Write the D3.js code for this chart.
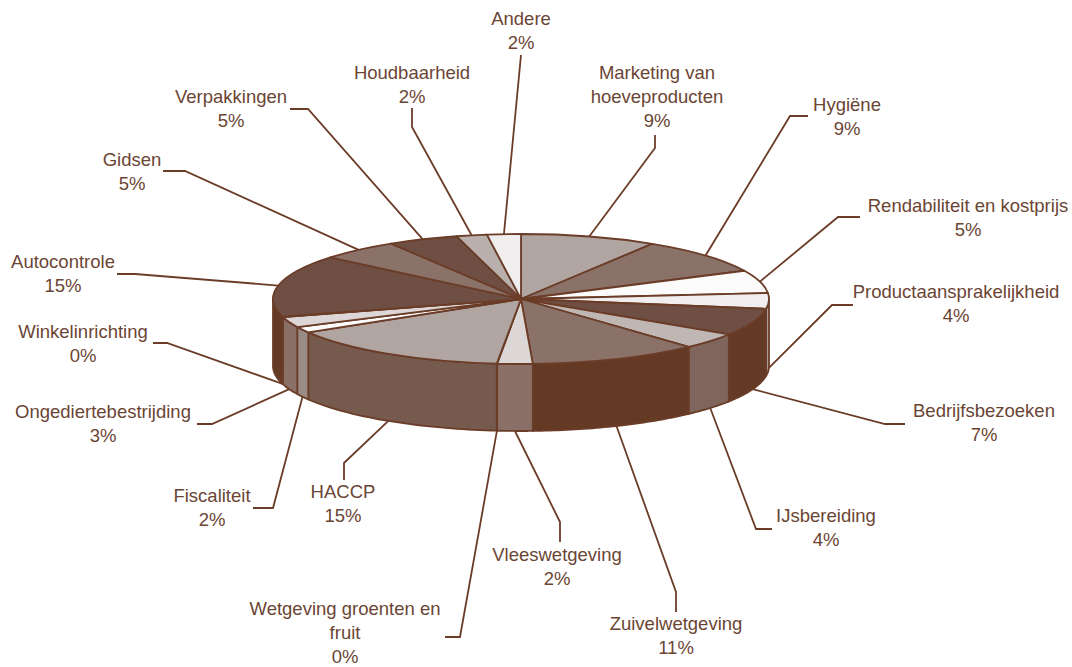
<!DOCTYPE html>
<html>
<head>
<meta charset="utf-8">
<script src="https://cdn.jsdelivr.net/npm/d3@7"></script>
<style>
  html, body { margin: 0; padding: 0; background: #fff; }
  text { font-family: "Liberation Sans", Arial, sans-serif; font-size: 18.5px; fill: #6b4534; }
</style>
</head>
<body>
<svg id="chart"></svg>
<script>
const categories = [
  ["Marketing van", "hoeveproducten"], ["Hygiëne"], ["Rendabiliteit en kostprijs"],
  ["Productaansprakelijkheid"], ["Bedrijfsbezoeken"], ["IJsbereiding"], ["Zuivelwetgeving"],
  ["Vleeswetgeving"], ["Wetgeving groenten en", "fruit"], ["HACCP"], ["Fiscaliteit"],
  ["Ongediertebestrijding"], ["Winkelinrichting"], ["Autocontrole"], ["Gidsen"],
  ["Verpakkingen"], ["Houdbaarheid"], ["Andere"]
];
const values = [8.9, 9.0, 5.7, 3.9, 6.8, 4.0, 11.1, 2.3, 0.02, 14.9, 1.5, 2.6, 0.1, 15.5, 5.2, 4.6, 2.0, 2.2];
const percentLabels = ["9%", "9%", "5%", "4%", "7%", "4%", "11%", "2%", "0%", "15%", "2%", "3%", "0%", "15%", "5%", "5%", "2%", "2%"];

const topColors = ["#b0a5a1", "#8b7269", "#fbfbfb", "#f0eeee", "#6f4f43", "#c0b6b3", "#8b7269", "#dcd7d6", "#dcd7d6",
  "#b0a5a1", "#fbfbfb", "#dcd7d6", "#fbfbfb", "#6f4f43", "#8b7269", "#6f4f43", "#b9afab", "#f0eeee"];
const sideColors = ["#b0a5a1", "#8b7269", "#fbfbfb", "#b5aaa5", "#643a25", "#7f655c", "#643a25", "#8a7067", "#8a7067",
  "#765a4d", "#9a8b86", "#8a7067", "#9a8b86", "#643a25", "#8b7269", "#6f4f43", "#b9afab", "#f0eeee"];

// label layout: text centre x, first baseline y, then the two leader points next to the label
const labelLayout = [
  { x: 657, y: 79, from: [655, 135], elbow: [655, 148] },
  { x: 847, y: 111, from: [808, 116], elbow: [790, 116] },
  { x: 968, y: 212, from: [860, 217], elbow: [838, 217] },
  { x: 956, y: 298, from: [853, 305], elbow: [832, 305] },
  { x: 984, y: 417, from: [905, 424], elbow: [885, 424] },
  { x: 826, y: 522, from: [772, 529], elbow: [756, 529] },
  { x: 676, y: 630, from: [676, 612], elbow: [676, 592] },
  { x: 557, y: 561, from: [560, 542], elbow: [560, 522] },
  { x: 345, y: 615, from: [445, 637], elbow: [460, 637] },
  { x: 343, y: 498, from: [344, 480], elbow: [344, 463] },
  { x: 212, y: 502, from: [253, 508], elbow: [273, 508] },
  { x: 103, y: 418, from: [197, 424], elbow: [212, 424] },
  { x: 83, y: 338, from: [153, 343], elbow: [167, 343] },
  { x: 63, y: 268, from: [117, 274], elbow: [135, 274] },
  { x: 132, y: 166, from: [163, 171], elbow: [185, 171] },
  { x: 231, y: 103, from: [290, 109], elbow: [308, 109] },
  { x: 412, y: 79, from: [412, 108], elbow: [412, 127] },
  { x: 521, y: 25, from: [521, 55], elbow: [521, 55] }
];

const wSvg = 1072;
const hSvg = 667;
const cx = 521;
const cy = 299;
const rx = 248;
const ry = 65;
const depth = 67;
const lineColor = "#6b3d28";

const svg = d3.select("#chart")
  .attr("width", wSvg)
  .attr("height", hSvg)
  .style("display", "block");

const slices = d3.pie().sort(null)(values);

function rimPoint(a, drop) {
  return [cx + rx * Math.sin(a), cy - ry * Math.cos(a) + drop];
}

// side wall, only the front half of the disc is visible
function wallPath(d) {
  let a0 = Math.max(d.startAngle, Math.PI / 2);
  let a1 = Math.min(d.endAngle, Math.PI * 1.5);
  if (a1 <= a0) return null;
  let steps = d3.range(0, 41).map(i => a0 + (a1 - a0) * i / 40);
  let upper = steps.map(a => rimPoint(a, 0));
  let lower = steps.slice().reverse().map(a => rimPoint(a, depth));
  return d3.line()(upper.concat(lower)) + "Z";
}

svg.append("g")
  .selectAll("path")
  .data(slices)
  .enter()
  .filter(d => wallPath(d) !== null)
  .append("path")
  .attr("d", wallPath)
  .attr("fill", d => sideColors[d.index])
  .attr("stroke", lineColor)
  .attr("stroke-width", 1.8)
  .attr("stroke-linejoin", "round");

const arc = d3.arc().innerRadius(0).outerRadius(rx);

svg.append("g")
  .attr("transform", `translate(${cx}, ${cy}) scale(1, ${ry / rx})`)
  .selectAll("path")
  .data(slices)
  .enter()
  .append("path")
  .attr("d", arc)
  .attr("fill", d => topColors[d.index])
  .attr("stroke", lineColor)
  .attr("stroke-width", 1.8)
  .attr("stroke-linejoin", "round")
  .attr("vector-effect", "non-scaling-stroke");

// leader lines end on the rim at the middle of the slice
function leaderPoints(d) {
  let mid = (d.startAngle + d.endAngle) / 2;
  let end = rimPoint(mid, Math.cos(mid) < 0 ? depth : 0);
  let l = labelLayout[d.index];
  return [l.from, l.elbow, end];
}

svg.append("g")
  .selectAll("path")
  .data(slices)
  .enter()
  .append("path")
  .attr("d", d => d3.line()(leaderPoints(d)))
  .attr("fill", "none")
  .attr("stroke", lineColor)
  .attr("stroke-width", 1.8);

const labels = svg.append("g")
  .selectAll("text")
  .data(slices)
  .enter()
  .append("text")
  .attr("text-anchor", "middle")
  .attr("x", d => labelLayout[d.index].x)
  .attr("y", d => labelLayout[d.index].y);

labels.selectAll("tspan")
  .data(d => categories[d.index].concat(percentLabels[d.index]).map(t => ({ t, i: d.index })))
  .enter()
  .append("tspan")
  .attr("x", d => labelLayout[d.i].x)
  .attr("dy", (d, i) => i === 0 ? 0 : 24)
  .text(d => d.t);
</script>
</body>
</html>
